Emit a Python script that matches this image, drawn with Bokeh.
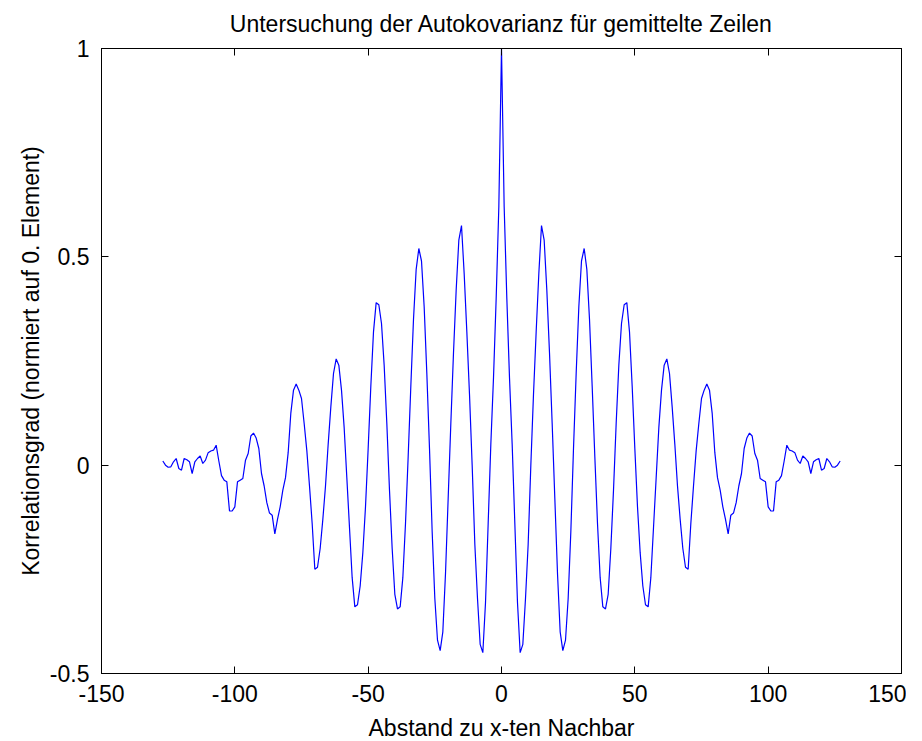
from bokeh.plotting import figure
from bokeh.models import LinearAxis, FixedTicker
from bokeh.embed import file_html
from bokeh.resources import INLINE

# ---- data ----
title_text = "Untersuchung der Autokovarianz für gemittelte Zeilen"
x_label = "Abstand zu x-ten Nachbar"
y_label = "Korrelationsgrad (normiert auf 0. Element)"

x_ticks = [-150, -100, -50, 0, 50, 100, 150]
x_tick_labels = ["-150", "-100", "-50", "0", "50", "100", "150"]
y_ticks = [-0.5, 0, 0.5, 1]
y_tick_labels = ["-0.5", "0", "0.5", "1"]

# autocovariance for lags 0..127 (normalised to lag 0); the function is symmetric
acf_pos = [
    1.000, 0.620, 0.400, 0.210, 0.050, -0.140, -0.330, -0.450, -0.430, -0.320,
    -0.190, 0.000, 0.170, 0.320, 0.460, 0.575, 0.540, 0.420, 0.270, 0.100,
    -0.080, -0.260, -0.400, -0.445, -0.420, -0.320, -0.160, 0.040, 0.220, 0.380,
    0.490, 0.520, 0.470, 0.350, 0.190, 0.020, -0.140, -0.270, -0.340, -0.345,
    -0.310, -0.200, -0.060, 0.100, 0.240, 0.340, 0.385, 0.390, 0.320, 0.190,
    0.040, -0.100, -0.210, -0.290, -0.335, -0.340, -0.270, -0.150, -0.030, 0.090,
    0.180, 0.240, 0.255, 0.220, 0.140, 0.050, -0.050, -0.130, -0.200, -0.245,
    -0.250, -0.140, -0.050, 0.035, 0.100, 0.160, 0.180, 0.195, 0.180, 0.125,
    0.030, -0.030, -0.060, -0.100, -0.130, -0.165, -0.120, -0.115, -0.090, -0.050,
    -0.020, 0.040, 0.065, 0.077, 0.070, 0.028, 0.012, -0.032, -0.036, -0.040,
    -0.100, -0.110, -0.110, -0.040, -0.036, -0.025, 0.010, 0.048, 0.036, 0.034,
    0.030, 0.012, 0.004, 0.022, 0.016, 0.008, -0.020, 0.008, 0.013, 0.016,
    -0.012, -0.008, 0.016, 0.008, -0.004, -0.005, 0.000, 0.010,
]
lags = list(range(-(len(acf_pos) - 1), len(acf_pos)))
acf = acf_pos[:0:-1] + acf_pos

FONT = "Liberation Sans"
FS = "23px"

p = figure(
    width=906, height=733,
    frame_width=800, frame_height=625,
    x_range=(-150, 150), y_range=(-0.5, 1),
    output_backend="svg", toolbar_location=None,
    x_axis_location=None, y_axis_location=None,
    min_border_left=101, min_border_right=5, min_border_top=47, min_border_bottom=61,
    background_fill_color="white", border_fill_color="white",
)
p.xgrid.visible = False
p.ygrid.visible = False
p.outline_line_color = "black"
p.outline_line_alpha = 1.0

p.line(lags, acf, line_color="#0000ff", line_width=1.2)

def style_axis(ax, ticks, labels, show_labels):
    ax.ticker = FixedTicker(ticks=ticks)
    ax.major_label_overrides = {t: l for t, l in zip(ticks, labels)}
    ax.major_tick_in = 7
    ax.major_tick_out = 0
    ax.minor_tick_line_color = None
    ax.axis_line_color = "black"
    ax.major_tick_line_color = "black"
    ax.major_label_text_font = FONT
    ax.major_label_text_color = "black"
    ax.axis_label_text_font = FONT
    ax.axis_label_text_font_style = "normal"
    ax.axis_label_text_color = "black"
    ax.axis_label_text_font_size = FS
    if show_labels:
        ax.major_label_text_font_size = FS
    else:
        ax.major_label_text_font_size = "0px"
        ax.major_label_standoff = 0

xb = LinearAxis(axis_label=x_label)
style_axis(xb, x_ticks, x_tick_labels, True)
xb.major_label_standoff = 11
xb.axis_label_standoff = 10
p.add_layout(xb, "below")

yl = LinearAxis(axis_label=y_label)
style_axis(yl, y_ticks, y_tick_labels, True)
yl.major_label_standoff = 12
yl.axis_label_standoff = 3
p.add_layout(yl, "left")

xt = LinearAxis()
style_axis(xt, x_ticks, ["" for _ in x_ticks], False)
p.add_layout(xt, "above")

yr = LinearAxis()
style_axis(yr, y_ticks, ["" for _ in y_ticks], False)
p.add_layout(yr, "right")

p.title.text = title_text
p.title.align = "center"
p.title.vertical_align = "top"
p.title.text_font = FONT
p.title.text_font_size = FS
p.title.text_font_style = "normal"
p.title.text_color = "black"
p.title.standoff = 20

open("out.html", "w").write(file_html(p, INLINE))
